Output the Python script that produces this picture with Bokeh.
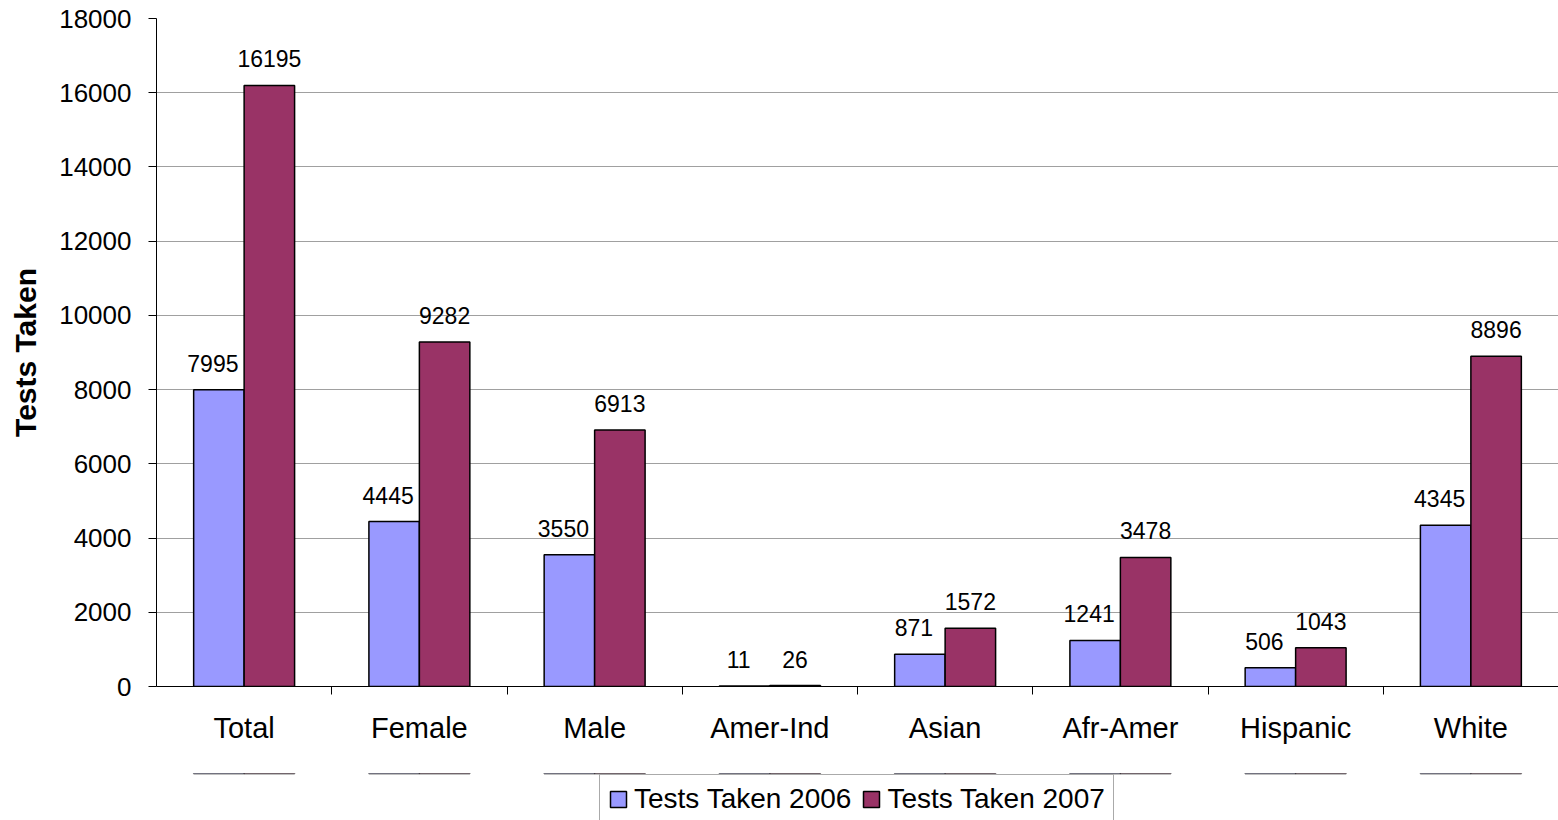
from bokeh.plotting import figure
from bokeh.layouts import column
from bokeh.models import (FactorRange, Range1d, CategoricalAxis, FixedTicker,
                          ColumnDataSource, LabelSet, Legend, LegendItem)
from bokeh.core.properties import value
from bokeh.transform import dodge
from bokeh.embed import file_html
from bokeh.resources import INLINE

categories = ["Total", "Female", "Male", "Amer-Ind", "Asian", "Afr-Amer", "Hispanic", "White"]
tests_2006 = [7995, 4445, 3550, 11, 871, 1241, 506, 4345]
tests_2007 = [16195, 9282, 6913, 26, 1572, 3478, 1043, 8896]
y_ticks = [0, 2000, 4000, 6000, 8000, 10000, 12000, 14000, 16000, 18000]
series_names = ["Tests Taken 2006", "Tests Taken 2007"]
y_title = "Tests Taken"

FONT = "Liberation Sans"
C2006 = "#9999FF"
C2007 = "#993366"

src = ColumnDataSource(dict(
    cat=categories,
    v06=tests_2006,
    v07=tests_2007,
    t06=[str(v) for v in tests_2006],
    t07=[str(v) for v in tests_2007],
))

p = figure(width=1558, height=773,
           x_range=FactorRange(*categories, range_padding=0),
           y_range=Range1d(0, 18000),
           output_backend="svg", toolbar_location=None,
           x_axis_location=None,
           min_border_left=156, min_border_top=18, min_border_right=0, min_border_bottom=87)
p.outline_line_color = None
p.background_fill_color = "white"
p.border_fill_color = "white"

BW = 0.288
r06 = p.vbar(x=dodge("cat", -BW / 2, range=p.x_range), top="v06", width=BW, source=src,
             fill_color=C2006, line_color="black", line_width=1.5)
r07 = p.vbar(x=dodge("cat", BW / 2, range=p.x_range), top="v07", width=BW, source=src,
             fill_color=C2007, line_color="black", line_width=1.5)

for fld, txt, off, dx in (("v06", "t06", -BW / 2, -6), ("v07", "t07", BW / 2, 0)):
    p.add_layout(LabelSet(x=dodge("cat", off, range=p.x_range), y=fld, text=txt, source=src,
                          x_offset=dx, y_offset=18, text_align="center",
                          text_baseline="alphabetic",
                          text_font=value(FONT), text_font_size=value("23px"),
                          text_color="black"))

# y axis
p.yaxis.ticker = FixedTicker(ticks=y_ticks)
p.yaxis.minor_tick_line_color = None
p.yaxis.major_tick_in = 0
p.yaxis.major_tick_out = 8
p.yaxis.major_tick_line_color = "black"
p.yaxis.axis_line_color = "black"
p.yaxis.major_label_text_font = FONT
p.yaxis.major_label_text_font_size = "26px"
p.yaxis.major_label_text_color = "black"
p.yaxis.major_label_standoff = 17
p.yaxis.axis_label = y_title
p.yaxis.axis_label_text_font = FONT
p.yaxis.axis_label_text_font_size = "30px"
p.yaxis.axis_label_text_font_style = "bold"
p.yaxis.axis_label_text_color = "black"
p.yaxis.axis_label_standoff = 14

p.ygrid.ticker = FixedTicker(ticks=y_ticks)
p.ygrid.grid_line_color = "#A0A0A0"
p.ygrid.grid_line_width = 1
p.xgrid.grid_line_color = None

# x axis: ticks on the category boundaries (a factor range shifted by half a factor)
bounds = ["b%d" % i for i in range(len(categories) + 1)]
p.extra_x_ranges = {"bounds": FactorRange(*bounds, range_padding=-0.5,
                                          range_padding_units="absolute")}
tick_axis = CategoricalAxis(x_range_name="bounds",
                            major_label_text_font_size="0px", major_label_standoff=0,
                            major_label_text_alpha=0,
                            minor_tick_line_color=None, major_tick_in=0, major_tick_out=8,
                            major_tick_line_color="black", axis_line_color="black")
p.add_layout(tick_axis, "below")

cat_axis = CategoricalAxis(axis_line_color=None, major_tick_line_color=None,
                           minor_tick_line_color=None, major_tick_out=0, major_tick_in=0,
                           major_label_text_font=FONT, major_label_text_font_size="29px",
                           major_label_text_color="black", major_label_standoff=17)
p.add_layout(cat_axis, "below")

# legend strip under the chart: its key renderers reuse the same data, but the strip's
# y range lies below zero, so the bars themselves fall outside its frame
p2 = figure(width=1558, height=47,
            x_range=FactorRange(*categories, range_padding=0), y_range=Range1d(-2, -1),
            output_backend="svg", toolbar_location=None,
            x_axis_location=None, y_axis_location=None,
            min_border_left=0, min_border_right=0, min_border_top=0, min_border_bottom=0)
p2.outline_line_color = None
p2.grid.visible = False
k06 = p2.vbar(x=dodge("cat", -BW / 2, range=p2.x_range), top="v06", width=BW, source=src,
              fill_color=C2006, line_color="black", line_width=1.5)
k07 = p2.vbar(x=dodge("cat", BW / 2, range=p2.x_range), top="v07", width=BW, source=src,
              fill_color=C2007, line_color="black", line_width=1.5)

legend = Legend(items=[LegendItem(label=series_names[0], renderers=[k06]),
                       LegendItem(label=series_names[1], renderers=[k07])],
                orientation="horizontal", location=(443, -4),
                label_text_font=FONT, label_text_font_size="28px", label_text_color="black",
                glyph_width=20, glyph_height=20, label_standoff=6, spacing=10,
                padding=8, margin=0, border_line_color="#555555", border_line_width=1,
                background_fill_color="white", background_fill_alpha=1)
p2.add_layout(legend, "center")

open("out.html", "w").write(file_html(column(p, p2, spacing=0), INLINE))
